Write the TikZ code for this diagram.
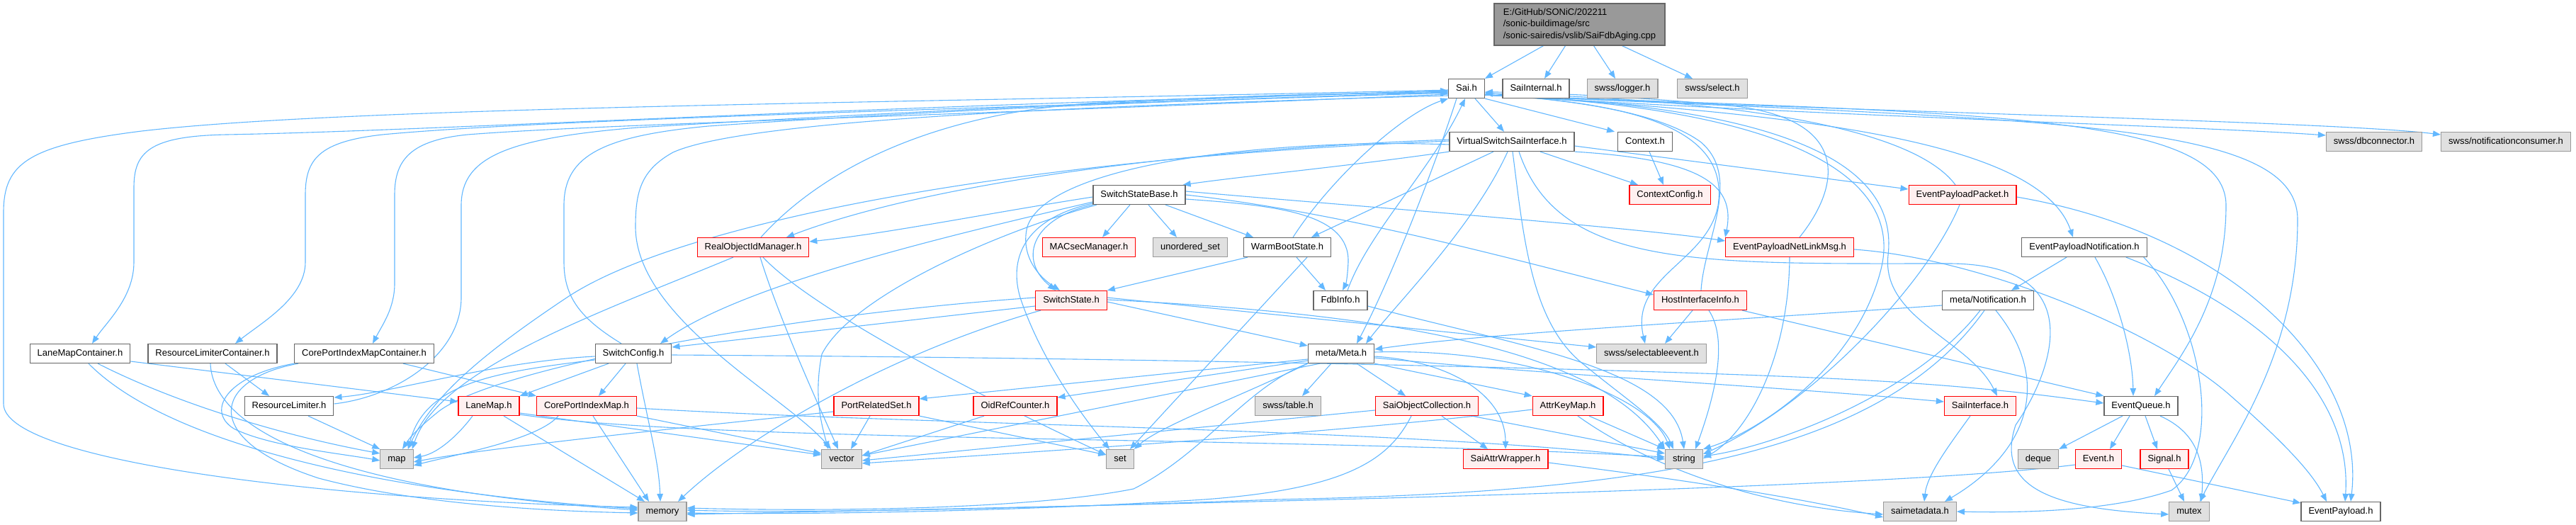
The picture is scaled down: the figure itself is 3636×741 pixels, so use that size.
\documentclass[tikz,border=0pt]{standalone}
\usepackage{fontspec}
\setmainfont{Liberation Sans}
\usetikzlibrary{arrows.meta,backgrounds}
\definecolor{edgeblue}{HTML}{63B8FF}
\definecolor{boxgray}{HTML}{666666}
\definecolor{rootfill}{HTML}{999999}
\definecolor{sysline}{HTML}{999999}
\definecolor{sysfill}{HTML}{E0E0E0}
\definecolor{redfill}{HTML}{FFF0F0}

\begin{document}
\begin{tikzpicture}[x=1pt,y=-1pt,
  hdrbox/.style={draw=boxgray,fill=white,line width=1.2pt,inner xsep=10.5pt,inner ysep=0pt,
    minimum height=27pt,text height=9.5pt,text depth=2.8pt,font=\fontsize{13}{15.6}\selectfont},
  redbox/.style={hdrbox,draw=red,fill=redfill},
  sysbox/.style={hdrbox,draw=sysline,fill=sysfill},
  rootbox/.style={draw=boxgray,fill=rootfill,line width=1.2pt,align=left,minimum width=241pt,
    minimum height=59pt,font=\fontsize{13}{16.2}\selectfont},
  dep/.style={draw=edgeblue,line width=1.1pt,-{Triangle[length=11pt,width=8.5pt]}}]
\useasboundingbox (0,0) rectangle (3636,741);

\node[rootbox] (root) at (2229.5,34.5) {E:/GitHub/SONiC/202211\\/sonic-buildimage/src\\/sonic-sairedis/vslib/SaiFdbAging.cpp};
\node[hdrbox] (sai) at (2070,125) {Sai.h};
\node[hdrbox] (saiint) at (2168,125) {SaiInternal.h};
\node[sysbox] (logger) at (2290,125) {swss/logger.h};
\node[sysbox] (select) at (2417,125) {swss/select.h};
\node[hdrbox] (vssi) at (2134,200) {VirtualSwitchSaiInterface.h};
\node[hdrbox] (ctx) at (2322,200) {Context.h};
\node[sysbox] (dbc) at (3351,200) {swss/dbconnector.h};
\node[sysbox] (ncons) at (3537,200) {swss/notificationconsumer.h};
\node[redbox] (ctxcfg) at (2357,275) {ContextConfig.h};
\node[hdrbox] (ssb) at (1608,275) {SwitchStateBase.h};
\node[redbox] (epp) at (2770,275) {EventPayloadPacket.h};
\node[redbox] (roim) at (1063,349) {RealObjectIdManager.h};
\node[redbox] (macsec) at (1537,349) {MACsecManager.h};
\node[sysbox] (uset) at (1680,349) {unordered\_set};
\node[hdrbox] (wbs) at (1817,349) {WarmBootState.h};
\node[redbox] (epnl) at (2526,349) {EventPayloadNetLinkMsg.h};
\node[hdrbox] (epn) at (2942,349) {EventPayloadNotification.h};
\node[redbox] (sstate) at (1512,424) {SwitchState.h};
\node[hdrbox] (fdb) at (1892,424) {FdbInfo.h};
\node[redbox] (hii) at (2400,424) {HostInterfaceInfo.h};
\node[hdrbox] (mnot) at (2806,424) {meta/Notification.h};
\node[hdrbox] (lmc) at (113,499) {LaneMapContainer.h};
\node[hdrbox] (rlc) at (300,499) {ResourceLimiterContainer.h};
\node[hdrbox] (cpimc) at (514,499) {CorePortIndexMapContainer.h};
\node[hdrbox] (scfg) at (894,499) {SwitchConfig.h};
\node[hdrbox] (meta) at (1893,499) {meta/Meta.h};
\node[sysbox] (sevt) at (2331,499) {swss/selectableevent.h};
\node[hdrbox] (rlim) at (408,573) {ResourceLimiter.h};
\node[redbox] (lanemap) at (690,573) {LaneMap.h};
\node[redbox] (cpim) at (828,573) {CorePortIndexMap.h};
\node[redbox] (prs) at (1237,573) {PortRelatedSet.h};
\node[redbox] (orc) at (1433,573) {OidRefCounter.h};
\node[sysbox] (table) at (1818,573) {swss/table.h};
\node[redbox] (soc) at (2014,573) {SaiObjectCollection.h};
\node[redbox] (akm) at (2213,573) {AttrKeyMap.h};
\node[redbox] (saiif) at (2795,573) {SaiInterface.h};
\node[hdrbox] (evq) at (3022,573) {EventQueue.h};
\node[sysbox] (map) at (560,648) {map};
\node[sysbox] (vector) at (1188,648) {vector};
\node[sysbox] (set) at (1581,648) {set};
\node[redbox] (saw) at (2125,648) {SaiAttrWrapper.h};
\node[sysbox] (string) at (2377,648) {string};
\node[sysbox] (deque) at (2877,648) {deque};
\node[redbox] (event) at (2962,648) {Event.h};
\node[redbox] (signal) at (3055,648) {Signal.h};
\node[sysbox] (memory) at (935,722) {memory};
\node[sysbox] (smeta) at (2710,722) {saimetadata.h};
\node[sysbox] (mutex) at (3090,722) {mutex};
\node[hdrbox] (evp) at (3304,722) {EventPayload.h};

\begin{scope}[on background layer]
\fill[white] (0,0) rectangle (3636,741);
\draw[dep] ([xshift=-51pt]root.south) -- (sai.north east);
\draw[dep] ([xshift=-20pt]root.south) -- ([xshift=12pt]saiint.north);
\draw[dep] ([xshift=20pt]root.south) -- ([xshift=-10pt]logger.north);
\draw[dep] ([xshift=60pt]root.south) -- ([xshift=-28pt]select.north);

\draw[dep] ([xshift=12pt]sai.south) -- ([xshift=-11pt]vssi.north);
\draw[dep] (sai.south east) -- ([xshift=-4pt]ctx.north west);
\draw[dep] ([yshift=-9pt]sai.east) .. controls (2600,165) and (3100,178) .. ([yshift=9pt]dbc.west);
\draw[dep] ([yshift=-9pt]sai.east) .. controls (2700,160) and (3300,172) .. ([yshift=10pt]ncons.west);
\draw[dep] ([yshift=-9pt]sai.east) .. controls (2550,160) and (2880,200) .. ([xshift=-16pt]epn.north);
\draw[dep] ([yshift=-9pt]sai.east) .. controls (2800,160) and (3142,160) .. (3142,290) .. controls (3142,420) and (3080,500) .. ([xshift=19pt]evq.north);
\draw[dep] ([yshift=-9pt]sai.east) .. controls (2900,170) and (3243,170) .. (3243,310) .. controls (3243,500) and (3150,620) .. ([xshift=15pt]mutex.north);
\draw[dep] ([yshift=-9pt]sai.east) .. controls (2500,150) and (2690,240) .. (2655,380) .. controls (2620,520) and (2480,610) .. (string.north east);
\draw[dep] ([yshift=-9pt]sai.east) .. controls (2330,145) and (2440,190) .. (2425,290) .. controls (2410,370) and (2300,390) .. ([xshift=-9pt]sevt.north);
\draw[dep] ([yshift=-9pt]sai.east) .. controls (2520,150) and (2680,230) .. (2665,360) .. controls (2655,450) and (2780,480) .. ([xshift=24pt]saiif.north);
\draw[dep] ([yshift=-2pt]sai.west) .. controls (1300,145) and (500,150) .. (200,185) .. controls (40,205) and (5,230) .. (5,300) -- (5,570) .. controls (5,650) and (450,705) .. ([yshift=6pt]memory.west);
\draw[dep] ([yshift=-4pt]sai.west) .. controls (1200,150) and (600,185) .. (320,190) .. controls (210,192) and (189,215) .. (189,265) -- (189,370) .. controls (189,420) and (150,455) .. ([xshift=17pt]lmc.north);
\draw[dep] ([yshift=-6pt]sai.west) .. controls (1300,155) and (750,170) .. (540,190) .. controls (450,200) and (431,225) .. (431,275) -- (431,370) .. controls (431,420) and (370,455) .. ([xshift=32pt]rlc.north);
\draw[dep] ([yshift=-8pt]sai.west) .. controls (1300,165) and (850,175) .. (660,190) .. controls (580,198) and (557,225) .. (557,275) -- (557,400) .. controls (557,435) and (540,458) .. ([xshift=12pt]cpimc.north);
\draw[dep] ([yshift=-10pt]sai.west) .. controls (1500,150) and (1050,170) .. (950,215) .. controls (905,240) and (897,270) .. (897,320) .. controls (897,450) and (1110,560) .. ([xshift=-15pt]vector.north);
\draw[dep] ([xshift=-14pt]sai.south) .. controls (2020,250) and (1960,400) .. ([xshift=22pt]meta.north);

\draw[dep] ([yshift=3pt]rlim.east) .. controls (560,560) and (651,500) .. (651,420) -- (651,290) .. controls (651,220) and (720,195) .. (900,180) .. controls (1400,150) and (1800,135) .. ([yshift=-3pt]sai.west);
\draw[dep] ([xshift=-17pt]scfg.north) .. controls (820,450) and (796,420) .. (796,370) -- (796,290) .. controls (796,220) and (850,192) .. (1000,178) .. controls (1400,150) and (1800,138) .. ([yshift=-5pt]sai.west);
\draw[dep] ([xshift=11pt]roim.north) .. controls (1150,250) and (1300,160) .. (1550,145) .. controls (1800,133) and (1950,130) .. ([yshift=-7pt]sai.west);
\draw[dep] ([xshift=8pt]wbs.north) .. controls (1880,250) and (1980,160) .. (sai.south west);
\draw[dep] ([xshift=10pt]fdb.north) .. controls (1930,330) and (2020,240) .. ([xshift=-2pt]sai.south);
\draw[dep] ([xshift=1pt]hii.north) .. controls (2405,340) and (2460,250) .. (2400,200) .. controls (2330,150) and (2180,140) .. ([yshift=-6pt]sai.east);
\draw[dep] ([xshift=-10pt]epp.north) .. controls (2700,180) and (2450,140) .. ([yshift=-7pt]sai.east);
\draw[dep] ([xshift=14pt]epnl.north) .. controls (2600,260) and (2610,170) .. (2450,150) .. controls (2300,135) and (2150,130) .. ([yshift=-5pt]sai.east);

\draw[dep] (vssi.south west) .. controls (1900,235) and (1760,248) .. ([xshift=-4pt]ssb.north east);
\draw[dep] ([yshift=3pt]vssi.west) .. controls (1650,212) and (1300,262) .. ([xshift=47pt]roim.north);
\draw[dep] ([yshift=1pt]vssi.west) .. controls (1400,225) and (950,320) .. (800,420) .. controls (680,500) and (610,560) .. ([xshift=-8pt]map.north east);
\draw[dep] ([yshift=-4pt]vssi.west) .. controls (1800,195) and (1480,230) .. (1450,320) .. controls (1440,360) and (1465,390) .. ([xshift=-16pt]sstate.north);
\draw[dep] ([xshift=40pt]vssi.south) -- ([xshift=-45pt]ctxcfg.north);
\draw[dep] ([yshift=-6pt]vssi.east) -- ([yshift=8pt]epp.west);
\draw[dep] (vssi.south east) .. controls (2400,225) and (2450,260) .. (epnl.north west);
\draw[dep] ([xshift=-26pt]vssi.south) -- ([xshift=34pt]wbs.north);
\draw[dep] ([xshift=-6pt]vssi.south) .. controls (2080,320) and (1970,430) .. ([xshift=35pt]meta.north);
\draw[dep] ([xshift=1pt]vssi.south) .. controls (2150,330) and (2160,450) .. (2230,510) .. controls (2290,560) and (2345,595) .. ([xshift=-15pt]string.north);
\draw[dep] ([xshift=10pt]vssi.south) .. controls (2200,380) and (2400,372) .. (2750,372) .. controls (2950,372) and (2900,520) .. (2845,600) .. controls (2815,690) and (2900,718) .. ([yshift=-4pt]mutex.west);
\draw[dep] ([xshift=6pt]ctx.south) -- ([xshift=-9pt]ctxcfg.north);

\draw[dep] ([yshift=-3pt]ssb.west) .. controls (1400,300) and (1250,330) .. ([yshift=8pt]roim.east);
\draw[dep] ([xshift=-13pt]ssb.south) -- ([xshift=19pt]macsec.north);
\draw[dep] ([xshift=13pt]ssb.south) -- ([xshift=-19pt]uset.north);
\draw[dep] ([xshift=37pt]ssb.south) -- ([xshift=-48pt]wbs.north);
\draw[dep] (ssb.south west) .. controls (1450,310) and (1440,370) .. ([xshift=-22pt]sstate.north);
\draw[dep] ([yshift=-6pt]ssb.east) .. controls (1800,290) and (1905,300) .. (1903,370) .. controls (1902,390) and (1900,400) .. ([xshift=3pt]fdb.north);
\draw[dep] (ssb.east) .. controls (1900,300) and (2150,370) .. ([yshift=8pt]hii.west);
\draw[dep] ([yshift=5pt]ssb.east) .. controls (1900,290) and (2300,320) .. ([yshift=9pt]epnl.west);
\draw[dep] ([yshift=-10pt]ssb.west) .. controls (1350,330) and (1050,400) .. ([xshift=38pt]scfg.north);
\draw[dep] ([yshift=-12pt]ssb.west) .. controls (1440,310) and (1425,370) .. (1440,420) .. controls (1470,510) and (1530,590) .. ([xshift=-15pt]set.north);
\draw[dep] ([xshift=-60pt]ssb.south) .. controls (1400,330) and (1200,420) .. (1160,500) .. controls (1148,560) and (1160,600) .. ([xshift=-19pt]vector.north);

\draw[dep] ([xshift=-56pt]wbs.south) -- (sstate.north east);
\draw[dep] ([xshift=13pt]wbs.south) -- ([xshift=-21pt]fdb.north);
\draw[dep] ([xshift=28pt]wbs.south) -- ([xshift=14pt]set.north);

\draw[dep] ([yshift=-8pt]sstate.west) -- ([yshift=9pt]scfg.east);
\draw[dep] ([yshift=4pt]sstate.west) .. controls (1100,445) and (700,520) .. (620,580) .. controls (595,600) and (580,615) .. ([xshift=8pt]map.north);
\draw[dep] ([yshift=-2pt]sstate.east) -- ([yshift=11pt]meta.west);
\draw[dep] ([yshift=4pt]sstate.east) -- ([yshift=9pt]sevt.west);
\draw[dep] ([yshift=1pt]sstate.east) .. controls (1900,440) and (2250,480) .. (string.north west);
\draw[dep] ([xshift=-43pt]sstate.south) .. controls (1250,500) and (1050,620) .. ([xshift=22pt]memory.north);

\draw[dep] ([yshift=-8pt]fdb.east) .. controls (2150,490) and (2360,520) .. (string.north);
\draw[dep] ([xshift=-11pt]hii.south) -- ([xshift=19pt]sevt.north);
\draw[dep] ([xshift=12pt]hii.south) .. controls (2440,480) and (2420,560) .. ([xshift=16pt]string.north);
\draw[dep] ([xshift=-7pt]hii.south east) -- (evq.north west);

\draw[dep] ([yshift=-7pt]mnot.west) .. controls (2400,455) and (2100,470) .. ([yshift=6pt]meta.east);
\draw[dep] ([xshift=-11pt]mnot.south) .. controls (2700,560) and (2500,630) .. ([yshift=4pt]string.east);
\draw[dep] ([xshift=-5pt]mnot.south) .. controls (2650,650) and (2300,695) .. (1800,705) .. controls (1400,720) and (1100,724) .. ([yshift=2pt]memory.east);
\draw[dep] ([xshift=11pt]mnot.south) .. controls (2900,540) and (2860,640) .. ([xshift=35pt]smeta.north);

\draw[dep] ([xshift=-25pt]epn.south) -- ([xshift=33pt]mnot.north);
\draw[dep] ([xshift=15pt]epn.south) .. controls (2990,420) and (3010,500) .. ([xshift=-11pt]evq.north);
\draw[dep] ([xshift=-30pt]epn.south east) .. controls (3200,440) and (3320,560) .. ([xshift=6pt]evp.north);
\draw[dep] ([xshift=-5pt]epn.south east) .. controls (3110,450) and (3140,640) .. (3065,692) .. controls (2980,722) and (2850,724) .. (smeta.east);

\draw[dep] ([yshift=-3pt]epp.east) .. controls (3150,330) and (3340,520) .. ([xshift=14pt]evp.north);
\draw[dep] ([xshift=-4pt]epp.south) .. controls (2720,400) and (2560,570) .. ([yshift=7pt]string.east);
\draw[dep] (epnl.south) .. controls (2525,500) and (2470,610) .. ([yshift=1pt]string.east);
\draw[dep] ([yshift=-3pt]epnl.east) .. controls (2800,365) and (3050,470) .. (3150,560) .. controls (3230,630) and (3265,670) .. ([xshift=-20pt]evp.north);

\draw[dep] ([xshift=-14pt]saiif.south) .. controls (2750,630) and (2720,670) .. ([xshift=6pt]smeta.north);
\draw[dep] ([xshift=-26pt]evq.south) -- (deque.north east);
\draw[dep] ([xshift=-16pt]evq.south) -- ([xshift=16pt]event.north);
\draw[dep] ([xshift=6pt]evq.south) -- ([xshift=-10pt]signal.north);
\draw[dep] ([xshift=27pt]evq.south) .. controls (3100,610) and (3112,650) .. ([xshift=17pt]mutex.north);
\draw[dep] ([yshift=-9pt]event.east) -- ([yshift=12pt]evp.west);
\draw[dep] ([yshift=-8pt]event.west) .. controls (2700,685) and (2000,705) .. ([yshift=-4pt]memory.east);
\draw[dep] ([xshift=6pt]signal.south) -- ([xshift=-7pt]mutex.north);

\draw[dep] ([xshift=-14pt]meta.south) -- ([xshift=20pt]table.north);
\draw[dep] ([xshift=22pt]meta.south) -- ([xshift=-30pt]soc.north);
\draw[dep] (meta.south east) -- (akm.north west);
\draw[dep] ([yshift=-4pt]meta.east) .. controls (2050,510) and (2125,560) .. (saw.north);
\draw[dep] ([yshift=2pt]meta.east) .. controls (2150,490) and (2330,560) .. ([xshift=-20pt]string.north);
\draw[dep] ([yshift=-6pt]meta.east) .. controls (2200,530) and (2500,545) .. ([yshift=6pt]saiif.west);
\draw[dep] ([yshift=-8pt]meta.west) -- ([yshift=10pt]prs.east);
\draw[dep] ([yshift=-10pt]meta.west) -- ([yshift=12pt]orc.east);
\draw[dep] ([xshift=-30pt]meta.south) -- ([yshift=5pt]vector.east);
\draw[dep] (meta.south west) .. controls (1750,560) and (1640,600) .. (set.north east);
\draw[dep] (meta.south west) .. controls (1760,545) and (1700,640) .. (1600,690) .. controls (1450,720) and (1150,722) .. ([yshift=5pt]memory.east);

\draw[dep] ([xshift=21pt]soc.south) -- ([xshift=-25pt]saw.north);
\draw[dep] ([xshift=-10pt]soc.south east) -- ([yshift=8pt]string.west);
\draw[dep] ([xshift=-22pt]soc.south) .. controls (1960,650) and (1900,690) .. (1700,705) .. controls (1400,724) and (1100,726) .. ([yshift=-2pt]memory.east);
\draw[dep] ([yshift=-6pt]soc.west) -- ([yshift=-2pt]vector.east);
\draw[dep] ([xshift=30pt]akm.south) -- (string.north west);
\draw[dep] ([xshift=14pt]akm.south) .. controls (2300,640) and (2450,712) .. ([yshift=-4pt]smeta.west);
\draw[dep] ([yshift=-5pt]akm.west) .. controls (1900,610) and (1500,635) .. ([yshift=-6pt]vector.east);
\draw[dep] ([yshift=-5pt]saw.east) .. controls (2400,680) and (2550,705) .. ([yshift=-8pt]smeta.west);

\draw[dep] ([xshift=-44pt]orc.south) -- ([yshift=5pt]vector.east);
\draw[dep] ([xshift=-9pt]prs.south) -- ([xshift=13pt]vector.north);
\draw[dep] (prs.south east) -- ([yshift=6pt]set.west);
\draw[dep] ([yshift=-8pt]prs.west) .. controls (1000,600) and (700,630) .. ([yshift=-4pt]map.east);

\draw[dep] ([xshift=-28pt]roim.south) .. controls (850,440) and (620,520) .. ([xshift=-2pt]map.north east);
\draw[dep] ([xshift=10pt]roim.south) .. controls (1100,450) and (1150,560) .. ([xshift=-5pt]vector.north);
\draw[dep] ([xshift=14pt]roim.south) .. controls (1130,420) and (1300,520) .. ([yshift=6pt]set.west);

\draw[dep] ([yshift=-4pt]scfg.west) .. controls (700,510) and (550,555) .. ([yshift=12pt]rlim.east);
\draw[dep] ([xshift=-35pt]scfg.south) -- (lanemap.north east);
\draw[dep] ([xshift=-11pt]scfg.south) -- ([xshift=17pt]cpim.north);
\draw[dep] ([xshift=5pt]scfg.south) .. controls (915,600) and (930,650) .. ([xshift=-3pt]memory.north);
\draw[dep] ([yshift=-9pt]scfg.west) .. controls (700,525) and (600,540) .. ([xshift=16pt]map.north);
\draw[dep] ([yshift=-2pt]scfg.east) .. controls (1600,505) and (2300,520) .. (2600,535) .. controls (2800,545) and (2900,560) .. ([yshift=4pt]evq.west);

\draw[dep] ([xshift=-23pt]lanemap.south) .. controls (650,610) and (620,640) .. ([yshift=2pt]map.east);
\draw[dep] ([xshift=21pt]lanemap.south) -- ([xshift=-25pt]memory.north);
\draw[dep] ([yshift=-10pt]lanemap.east) -- ([yshift=6pt]vector.west);
\draw[dep] ([yshift=-12pt]lanemap.east) .. controls (1000,625) and (1800,615) .. ([yshift=3pt]string.west);
\draw[dep] ([xshift=-40pt]cpim.south) .. controls (760,620) and (650,640) .. ([yshift=-9pt]map.east);
\draw[dep] ([xshift=9pt]cpim.south) -- ([xshift=-19pt]memory.north);
\draw[dep] (cpim.south east) -- ([yshift=8pt]vector.west);
\draw[dep] ([yshift=-3pt]cpim.east) .. controls (1300,600) and (2000,605) .. (string.west);

\draw[dep] ([yshift=-11pt]lmc.east) -- ([yshift=6pt]lanemap.west);
\draw[dep] ([xshift=25pt]lmc.south) .. controls (250,570) and (400,615) .. ([yshift=8pt]map.west);
\draw[dep] ([xshift=12pt]lmc.south) .. controls (250,640) and (600,700) .. ([yshift=4pt]memory.west);
\draw[dep] ([xshift=18pt]rlc.south) -- ([xshift=-28pt]rlim.north);
\draw[dep] ([xshift=-3pt]rlc.south) .. controls (300,600) and (450,690) .. ([yshift=2pt]memory.west);
\draw[dep] ([xshift=55pt]cpimc.south) -- (cpim.north west);
\draw[dep] (cpimc.south west) .. controls (320,530) and (290,580) .. (330,605) .. controls (380,630) and (480,640) .. ([yshift=-2pt]map.west);
\draw[dep] ([xshift=6pt]cpimc.south west) .. controls (300,535) and (280,620) .. (450,675) .. controls (600,715) and (800,722) .. ([yshift=-2pt]memory.west);
\draw[dep] ([xshift=27pt]rlim.south) -- (map.north west);
\end{scope}
\end{tikzpicture}
\end{document}
